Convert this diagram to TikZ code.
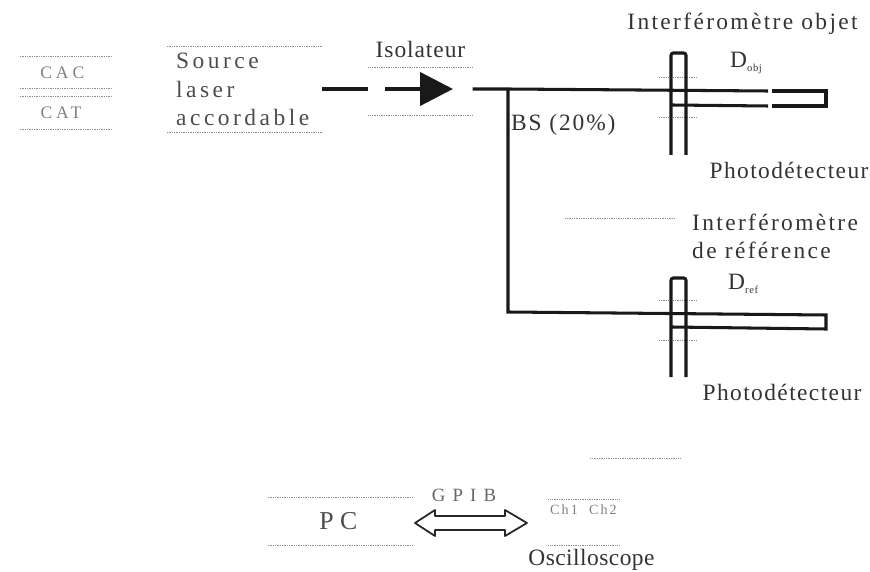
\documentclass[tikz,border=0pt]{standalone}
\usepackage{fontspec}
\setmainfont{Liberation Serif}
\usetikzlibrary{arrows.meta,positioning}

\begin{document}
\begin{tikzpicture}[
        x=0.03cm, y=-0.03cm,
        node distance=0.9cm and 1.2cm,
        boite/.style={inner sep=0pt, align=center, text=black!70},
        etiq/.style={inner sep=0pt, align=center, text=black!80, font=\fontsize{20}{24}\selectfont\addfontfeature{LetterSpace=6}},
        petit/.style={boite, font=\fontsize{15}{17}\selectfont\addfontfeature{LetterSpace=22}, text=black!50},
        trait/.style={black!45, line width=0.5pt, densely dotted},
        fibre/.style={line width=2.6pt, black!90},
        epais/.style={line width=3.6pt, black!90},
        flecha/.style={-{Triangle[length=0.99cm, width=0.99cm]}, line width=3.6pt, black!90}
    ]
        \useasboundingbox (0,0) rectangle (870,572);

        \node[petit, minimum width=2.76cm, minimum height=0.93cm] (cac) at (66,72.5) {CAC\hspace{0.22cm}};
        \node[petit, minimum width=2.76cm, minimum height=0.99cm, below=0.24cm of cac] (cat) {CAT\hspace{0.3cm}};
        \node[boite, minimum width=4.65cm, minimum height=2.55cm, text width=4.1cm, align=left, yshift=0.03cm,
              font=\fontsize{20}{24.5}\selectfont\addfontfeature{LetterSpace=15}] (src) at (244.5,90.5) {Source\\laser\\accordable};
        \node[boite, minimum width=3.12cm, minimum height=1.41cm, right=1.38cm of src, yshift=-0.06cm] (iso) {};
        \node[etiq, above=0.3cm of iso, font=\fontsize{20}{24}\selectfont\addfontfeature{LetterSpace=4}] (isolab) {Isolateur};

        \node[etiq, font=\fontsize{20}{24}\selectfont\addfontfeature{LetterSpace=10}] (objlab) at (742.5,24) {Interféromètre objet};
        \node[etiq] (pdobj) at (789,170) {Photodétecteur};
        \node[etiq, anchor=west, font=\fontsize{20}{24}\selectfont\addfontfeature{LetterSpace=8}] (bs) at (511,125) {BS (20\%)};
        \node[etiq, anchor=west] (dobj) at (730,63) {D\raisebox{-4pt}{\fontsize{9}{9}\selectfont obj}};
        \node[etiq, anchor=west, align=left, font=\fontsize{20}{24}\selectfont\addfontfeature{LetterSpace=10}] (reflab) at (692,236) {Interféromètre\\de référence};
        \node[etiq, anchor=west] (dref) at (728,284) {D\raisebox{-4pt}{\fontsize{9}{9}\selectfont ref}};
        \node[etiq] (pdref) at (782,392) {Photodétecteur};

        \node[boite, minimum width=4.32cm, minimum height=1.41cm, font=\fontsize{22}{24}\selectfont\addfontfeature{LetterSpace=25}] (pc) at (340,521.5) {PC\hspace{0.1cm}};
        \node[petit, minimum width=2.1cm, minimum height=1.38cm, right=4.08cm of pc, text height=0.3cm, yshift=-0.03cm,
              font=\fontsize{12}{14}\selectfont\addfontfeature{LetterSpace=15}] (osc) {\raisebox{0.4cm}{Ch1\ \ Ch2}};
        \node[etiq, below=0.09cm of osc, xshift=0.24cm, font=\fontsize{20}{24}\selectfont\addfontfeature{LetterSpace=2}] (osclab) {Oscilloscope};
        \node[etiq, font=\fontsize{16}{18}\selectfont\addfontfeature{LetterSpace=38}, text=black!60] (gpib) at (464,495) {GPIB};

        % traits presque effaces
        \foreach \n in {cac,cat,src,iso,pc,osc} {
            \draw[trait] (\n.north west) -- (\n.north east);
            \draw[trait] (\n.south west) -- (\n.south east);
        }
        \coordinate (t1a) at (659,77);   \coordinate (t1b) at (697,77);
        \coordinate (t2a) at (659,117);  \coordinate (t2b) at (697,117);
        \coordinate (t3a) at (659,300);  \coordinate (t3b) at (697,300);
        \coordinate (t4a) at (659,340);  \coordinate (t4b) at (697,340);
        \coordinate (t5a) at (565,218);  \coordinate (t5b) at (675,218);
        \coordinate (t6a) at (590,458);  \coordinate (t6b) at (680,458);
        \foreach \n in {1,...,6} \draw[trait] (t\n a) -- (t\n b);

        % fibres
        \coordinate (split) at (508,89);
        \coordinate (coudeh) at (768,91);   \coordinate (hd) at (772,91);
        \coordinate (fonda) at (826,91);    \coordinate (fondb) at (826,106);
        \coordinate (bd) at (772,106);      \coordinate (bg) at (768,106);
        \coordinate (boba) at (672,105);
        \coordinate (coude) at (508,312);
        \coordinate (refa) at (826,315);    \coordinate (refb) at (826,329);
        \coordinate (refc) at (672,327);
        \coordinate (isoa) at (385,89);     \coordinate (isob) at (453,89);

        \draw[epais] (src.east |- isoa) -- (iso.west |- isoa);
        \draw[flecha] (isoa) -- (isob);
        \draw[fibre] (iso.east |- isoa) -- (split) -- (coudeh);
        \draw[fibre] (hd) -- (fonda) -- (fondb) -- (bd);
        \draw[fibre] (bg) -- (boba);
        \draw[fibre] (split) -- (coude) -- (refa) -- (refb) -- (refc);

        % photodetecteurs
        \foreach \n/\haut/\bas in {obj/53/155, ref/278/377} {
            \draw[fibre, rounded corners=2pt] (671,\bas) -- (671,\haut) -- (686,\haut) -- (686,\bas);
        }

        % GPIB
        \coordinate (ga) at (415,523);  \coordinate (gb) at (527,523);
        \draw[line width=1.5pt, black!85, line join=round] (ga) -- (435,510) -- (435,516) -- (505,516) -- (505,510) -- (gb) -- (505,536) -- (505,530) -- (435,530) -- (435,536) -- cycle;
    \end{tikzpicture}
\end{document}
